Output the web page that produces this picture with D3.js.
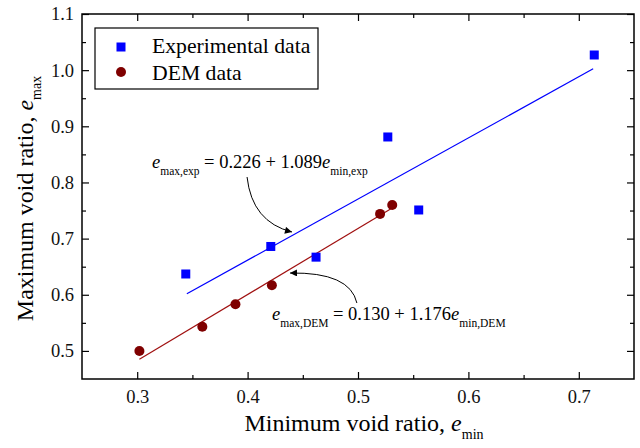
<!DOCTYPE html>
<html>
<head>
<meta charset="utf-8">
<script src="https://cdn.jsdelivr.net/npm/d3@7"></script>
<style>
  body { margin: 0; background: #fff; }
  svg text { font-family: "Liberation Serif", "Times New Roman", "DejaVu Serif", serif; }
</style>
</head>
<body>
<svg width="640" height="448"></svg>
<script>
// measured points
const expX = [0.344, 0.421, 0.462, 0.527, 0.555, 0.714];
const expY = [0.637, 0.686, 0.667, 0.881, 0.751, 1.027];
const demX = [0.302, 0.359, 0.389, 0.422, 0.520, 0.531];
const demY = [0.500, 0.543, 0.583, 0.617, 0.744, 0.760];

// fitted lines: intercept, slope, x range
const expFit = [0.226, 1.089];
const expRange = [0.345, 0.713];
const demFit = [0.130, 1.176];
const demRange = [0.302, 0.531];

const xTicks = [0.3, 0.4, 0.5, 0.6, 0.7];
const yTicks = [0.5, 0.6, 0.7, 0.8, 0.9, 1.0, 1.1];
const xMinor = [0.35, 0.45, 0.55, 0.65];
const yMinor = [0.55, 0.65, 0.75, 0.85, 0.95, 1.05];

const serif = '"Liberation Serif", "Times New Roman", serif';
const svg = d3.select('svg').attr('font-family', serif);
const mL = 82, mR = 634, mT = 14, mB = 379;

const x = d3.scaleLinear().domain([0.25, 0.75]).range([mL, mR]);
const y = d3.scaleLinear().domain([0.45, 1.1]).range([mB, mT]);

const fmt = d3.format('.1f');

// axes, ticks pointing inward
function axisSet(axisFn, scale, ticks, minor, pos, pad) {
  const gMaj = svg.append('g').attr('transform', pos)
    .call(axisFn(scale).tickValues(ticks).tickSizeInner(-7).tickSizeOuter(0)
      .tickPadding(pad || 0).tickFormat(pad ? fmt : ''));
  const gMin = svg.append('g').attr('transform', pos)
    .call(axisFn(scale).tickValues(minor).tickSizeInner(-4).tickSizeOuter(0).tickFormat(''));
  [gMaj, gMin].forEach(g => {
    g.attr('font-family', serif).attr('font-size', 18.5);
    g.select('.domain').remove();
    g.selectAll('line').attr('stroke', '#000').attr('stroke-width', 1.2);
    g.selectAll('text').attr('fill', '#111');
  });
  return gMaj;
}
axisSet(d3.axisBottom, x, xTicks, xMinor, `translate(0,${mB})`, 11);
axisSet(d3.axisTop, x, xTicks, xMinor, `translate(0,${mT})`, 0);
axisSet(d3.axisLeft, y, yTicks, yMinor, `translate(${mL},0)`, 8);
axisSet(d3.axisRight, y, yTicks, yMinor, `translate(${mR},0)`, 0);

// frame
svg.append('rect').attr('x', mL).attr('y', mT)
  .attr('width', mR - mL).attr('height', mB - mT)
  .attr('fill', 'none').attr('stroke', '#000').attr('stroke-width', 1.5);

// fit lines
const line = d3.line().x(d => x(d[0])).y(d => y(d[1]));
svg.append('path')
  .attr('d', line(expRange.map(v => [v, expFit[0] + expFit[1] * v])))
  .attr('stroke', '#0000ff').attr('stroke-width', 1.2).attr('fill', 'none');
svg.append('path')
  .attr('d', line(demRange.map(v => [v, demFit[0] + demFit[1] * v])))
  .attr('stroke', '#a01010').attr('stroke-width', 1.2).attr('fill', 'none');

// markers
svg.selectAll('rect.exp').data(expX).enter().append('rect')
  .attr('class', 'exp')
  .attr('x', (d) => x(d) - 4.5)
  .attr('y', (d, i) => y(expY[i]) - 4.5)
  .attr('width', 9).attr('height', 9)
  .attr('fill', '#0000ff');
svg.selectAll('circle.dem').data(demX).enter().append('circle')
  .attr('class', 'dem')
  .attr('cx', d => x(d))
  .attr('cy', (d, i) => y(demY[i]))
  .attr('r', 5)
  .attr('fill', '#7f0000');

// legend
svg.append('rect').attr('x', 95).attr('y', 28).attr('width', 223).attr('height', 61)
  .attr('fill', '#fff').attr('stroke', '#000').attr('stroke-width', 1.2);
svg.append('rect').attr('x', 116.5).attr('y', 42.5).attr('width', 9).attr('height', 9).attr('fill', '#0000ff');
svg.append('circle').attr('cx', 121).attr('cy', 72).attr('r', 5).attr('fill', '#7f0000');
svg.append('text').attr('x', 152).attr('y', 53).attr('font-size', 21.7).text('Experimental data');
svg.append('text').attr('x', 152).attr('y', 80).attr('font-size', 21.7).text('DEM data');

// equations
function equation(px, py, sub1, body, sub2) {
  const t = svg.append('text').attr('x', x(px)).attr('y', y(py)).attr('font-size', 18.5);
  t.append('tspan').attr('font-style', 'italic').text('e');
  t.append('tspan').attr('font-size', 11.5).attr('dy', 7).text(sub1);
  t.append('tspan').attr('dy', -7).text('\u00a0' + body);
  t.append('tspan').attr('font-style', 'italic').text('e');
  t.append('tspan').attr('font-size', 11.5).attr('dy', 7).text(sub2);
}
equation(0.3134, 0.8257, 'max,exp', '= 0.226 + 1.089', 'min,exp');
equation(0.4221, 0.555, 'max,DEM', '= 0.130 + 1.176', 'min,DEM');

// arrows
svg.append('defs').append('marker')
  .attr('id', 'ah').attr('viewBox', '0 0 10 10').attr('refX', 10).attr('refY', 5)
  .attr('markerWidth', 9).attr('markerHeight', 7).attr('orient', 'auto')
  .attr('markerUnits', 'userSpaceOnUse')
  .append('path').attr('d', 'M0,0 L10,5 L0,10 z').attr('fill', '#000');

const curve = (p0, c, p1) => `M${x(p0[0])},${y(p0[1])} Q${x(c[0])},${y(c[1])} ${x(p1[0])},${y(p1[1])}`;
svg.append('path').attr('d', curve([0.3995, 0.8097], [0.404, 0.7296], [0.4402, 0.7118]))
  .attr('fill', 'none').attr('stroke', '#000').attr('stroke-width', 1).attr('marker-end', 'url(#ah)');
svg.append('path').attr('d', curve([0.499, 0.5853], [0.4928, 0.6405], [0.4384, 0.6387]))
  .attr('fill', 'none').attr('stroke', '#000').attr('stroke-width', 1).attr('marker-end', 'url(#ah)');

// axis titles
const xt = svg.append('text').attr('x', (mL + mR) / 2 + 6).attr('y', 431)
  .attr('text-anchor', 'middle').attr('font-size', 24);
xt.append('tspan').text('Minimum void ratio, ');
xt.append('tspan').attr('font-style', 'italic').text('e');
xt.append('tspan').attr('font-size', 14).attr('dy', 8).text('min');

const yt = svg.append('text')
  .attr('transform', `translate(33,${(mT + mB) / 2 + 2}) rotate(-90)`)
  .attr('text-anchor', 'middle').attr('font-size', 24);
yt.append('tspan').text('Maximum void ratio, ');
yt.append('tspan').attr('font-style', 'italic').text('e');
yt.append('tspan').attr('font-size', 14).attr('dy', 8).text('max');
</script>
</body>
</html>
